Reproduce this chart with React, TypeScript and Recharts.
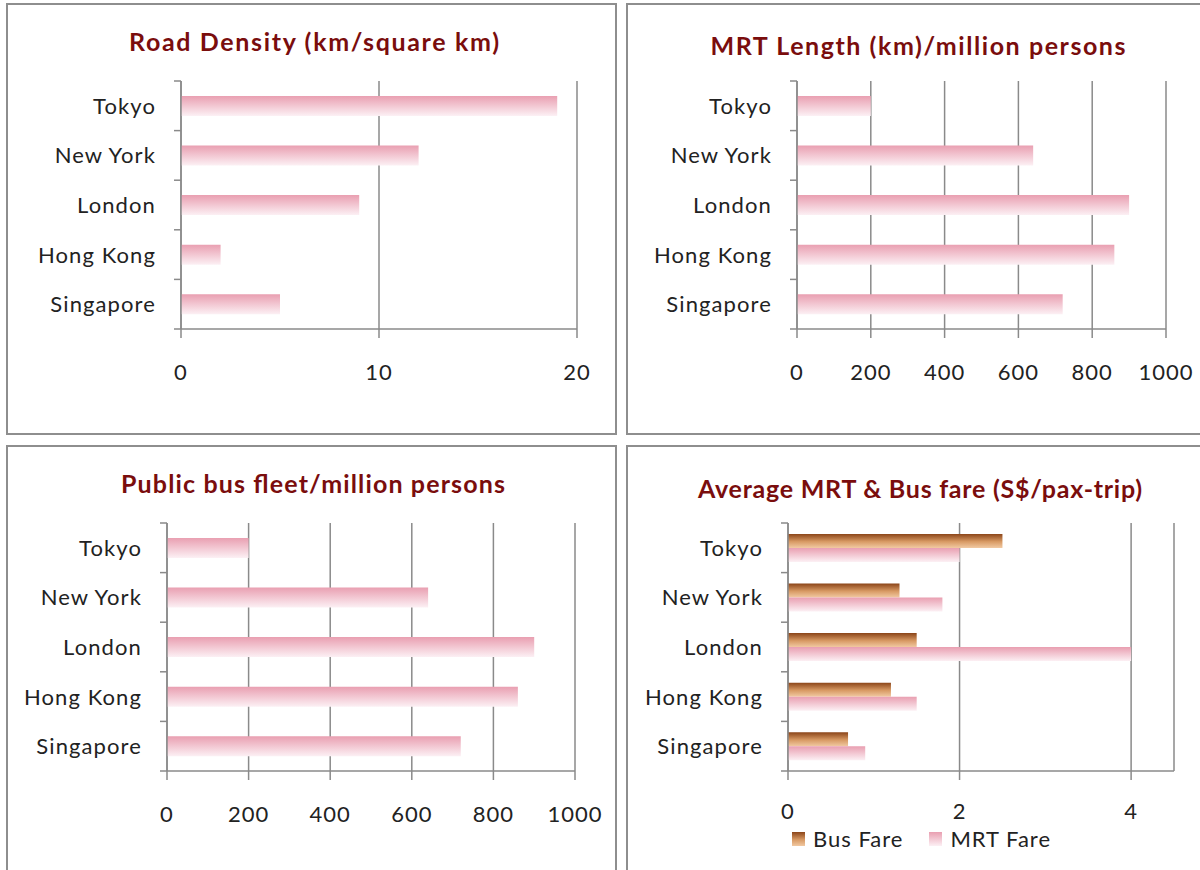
import React from 'react';
import { BarChart, Bar, XAxis, YAxis, CartesianGrid, Legend } from 'recharts';

const cities = ['Tokyo', 'New York', 'London', 'Hong Kong', 'Singapore'];
const roadDensity = [19, 12, 9, 2, 5];
const mrtLength = [200, 640, 900, 860, 720];
const busFleet = [200, 640, 900, 860, 720];
const busFare = [2.5, 1.3, 1.5, 1.2, 0.7];
const mrtFare = [2.0, 1.8, 4.0, 1.5, 0.9];

const roadTicks = [0, 10, 20];
const perMillionTicks = [0, 200, 400, 600, 800, 1000];
const fareTicks = [0, 2, 4];

const titles = [
  'Road Density (km/square km)',
  'MRT Length (km)/million persons',
  'Public bus fleet/million persons',
  'Average MRT & Bus fare (S$/pax-trip)',
];

const roadData = cities.map((city, i) => ({ city, value: roadDensity[i] }));
const mrtData = cities.map((city, i) => ({ city, value: mrtLength[i] }));
const busData = cities.map((city, i) => ({ city, value: busFleet[i] }));
const fareData = cities.map((city, i) => ({ city, bus: busFare[i], mrt: mrtFare[i] }));

const FONT = 'Lato, "Open Sans", sans-serif';
const AXIS = '#8a8a8a';
const TEXT = '#222222';
const TITLE = '#7a0d0d';

const CatTick = (props: any) => {
  const { x, y, payload, index, visibleTicksCount, height } = props;
  const ax = x + 25;
  let half = payload && typeof payload.offset === 'number' && payload.offset > 0 ? payload.offset : 0;
  if (!half && height && visibleTicksCount) half = height / visibleTicksCount / 2;
  const last = index === (visibleTicksCount || 5) - 1;
  return (
    <g>
      <text
        x={x}
        y={y}
        dy="0.36em"
        textAnchor="end"
        fontSize={22}
        fill={TEXT}
        fontFamily={FONT}
        letterSpacing={1.1}
      >
        {payload.value}
      </text>
      <line x1={ax - 7} x2={ax} y1={y - half} y2={y - half} stroke={AXIS} strokeWidth={1.5} />
      {last && <line x1={ax - 7} x2={ax} y1={y + half} y2={y + half} stroke={AXIS} strokeWidth={1.5} />}
    </g>
  );
};

const Grads = ({ id }: { id: string }) => (
  <defs>
    <linearGradient id={`pink-${id}`} x1="0" y1="0" x2="0" y2="1">
      <stop offset="0%" stopColor="#e99fb1" />
      <stop offset="100%" stopColor="#fcf0f4" />
    </linearGradient>
    <linearGradient id={`brown-${id}`} x1="0" y1="0" x2="0" y2="1">
      <stop offset="0%" stopColor="#8b4519" />
      <stop offset="55%" stopColor="#d89a64" />
      <stop offset="100%" stopColor="#f1c9a2" />
    </linearGradient>
  </defs>
);

const xTickStyle = { fontSize: 22, fill: TEXT, fontFamily: FONT, letterSpacing: 1 };

const Panel = ({ left, top, width, height }: any) => (
  <div
    style={{
      position: 'absolute',
      left,
      top,
      width,
      height,
      boxSizing: 'border-box',
      border: '2px solid #8e8e8e',
      background: '#fff',
    }}
  />
);

const titleLayout = [
  { cx: 314, y: 51, len: 370 },
  { cx: 918, y: 55, len: 415 },
  { cx: 313, y: 493, len: 384 },
  { cx: 920, y: 498, len: 444 },
];

const SingleChart = ({ data, ticks, max, id, left, top, width, height, marginRight, marginTop, yWidth, xHeight }: any) => (
  <div style={{ position: 'absolute', left, top }}>
    <BarChart
      width={width}
      height={height}
      data={data}
      layout="vertical"
      margin={{ top: marginTop, right: marginRight, bottom: 0, left: 0 }}
      barCategoryGap="30%"
    >
      <Grads id={id} />
      <CartesianGrid horizontal={false} stroke={AXIS} strokeWidth={1.5} />
      <XAxis
        type="number"
        domain={[0, max]}
        ticks={ticks}
        interval={0}
        height={xHeight}
        tickSize={9}
        tickMargin={26}
        stroke={AXIS}
        strokeWidth={1.5}
        tick={xTickStyle}
      />
      <YAxis
        type="category"
        dataKey="city"
        width={yWidth}
        tickSize={7}
        tickMargin={18}
        tickLine={false}
        stroke={AXIS}
        strokeWidth={1.5}
        tick={<CatTick />}
        interval={0}
      />
      <Bar dataKey="value" fill={`url(#pink-${id})`} isAnimationActive={false} />
    </BarChart>
  </div>
);

const FareLegend = (props: any) => {
  const { payload } = props;
  return (
    <div
      style={{
        display: 'flex',
        alignItems: 'center',
        fontFamily: FONT,
        fontSize: 22,
        lineHeight: '20px',
        height: 20,
        color: TEXT,
        letterSpacing: 1,
        whiteSpace: 'nowrap',
      }}
    >
      {(payload || []).map((p: any, i: number) => (
        <div key={i} style={{ display: 'flex', alignItems: 'center', marginRight: 26, height: 20 }}>
          <svg width={13} height={14} style={{ marginRight: 8 }}>
            <rect x={0} y={0} width={13} height={14} fill={p.color} />
          </svg>
          <span style={{ lineHeight: '20px' }}>{p.value}</span>
        </div>
      ))}
    </div>
  );
};

export default function App() {
  return (
    <div style={{ position: 'absolute', left: 0, top: 0, width: 1200, height: 870, overflow: 'hidden', background: '#fff' }}>
      <Panel left={6} top={3} width={611} height={432} />
      <Panel left={626} top={3} width={600} height={432} />
      <Panel left={6} top={445} width={611} height={440} />
      <Panel left={626} top={445} width={600} height={440} />

      <SingleChart
        data={roadData}
        ticks={roadTicks}
        max={20}
        id="road"
        left={0}
        top={0}
        width={620}
        height={440}
        marginRight={43}
        marginTop={81}
        yWidth={181}
        xHeight={111}
      />
      <SingleChart
        data={mrtData}
        ticks={perMillionTicks}
        max={1000}
        id="mrt"
        left={620}
        top={0}
        width={580}
        height={440}
        marginRight={34}
        marginTop={81}
        yWidth={177}
        xHeight={111}
      />
      <SingleChart
        data={busData}
        ticks={perMillionTicks}
        max={1000}
        id="bus"
        left={0}
        top={440}
        width={620}
        height={430}
        marginRight={45}
        marginTop={83}
        yWidth={167}
        xHeight={99}
      />

      <div style={{ position: 'absolute', left: 620, top: 440 }}>
        <BarChart
          width={580}
          height={430}
          data={fareData}
          layout="vertical"
          margin={{ top: 83, right: 26, bottom: 0, left: 0 }}
          barCategoryGap="22%"
          barGap={0}
        >
          <Grads id="fare" />
          <CartesianGrid horizontal={false} stroke={AXIS} strokeWidth={1.5} />
          <XAxis
            type="number"
            domain={[0, 4.5]}
            ticks={fareTicks}
            interval={0}
            height={99}
            tickSize={9}
            tickMargin={23}
            stroke={AXIS}
            strokeWidth={1.5}
            tick={xTickStyle}
          />
          <YAxis
            type="category"
            dataKey="city"
            width={168}
            tickSize={7}
            tickMargin={18}
            tickLine={false}
            stroke={AXIS}
            strokeWidth={1.5}
            tick={<CatTick />}
            interval={0}
          />
          <Legend
            verticalAlign="middle"
            align="center"
            layout="horizontal"
            content={<FareLegend />}
            wrapperStyle={{ position: 'absolute', left: 172, top: 389, width: 'auto', height: 20 }}
          />
          <Bar dataKey="bus" name="Bus Fare" fill="url(#brown-fare)" isAnimationActive={false} />
          <Bar dataKey="mrt" name="MRT Fare" fill="url(#pink-fare)" isAnimationActive={false} />
        </BarChart>
      </div>

      <svg width={1200} height={870} style={{ position: 'absolute', left: 0, top: 0, pointerEvents: 'none' }}>
        {titles.map((t, i) => (
          <text
            key={t}
            x={titleLayout[i].cx}
            y={titleLayout[i].y}
            textAnchor="middle"
            fontFamily={FONT}
            fontWeight={700}
            fontSize={25}
            fill={TITLE}
            textLength={titleLayout[i].len}
            lengthAdjust="spacing"
          >
            {t}
          </text>
        ))}
      </svg>
    </div>
  );
}
